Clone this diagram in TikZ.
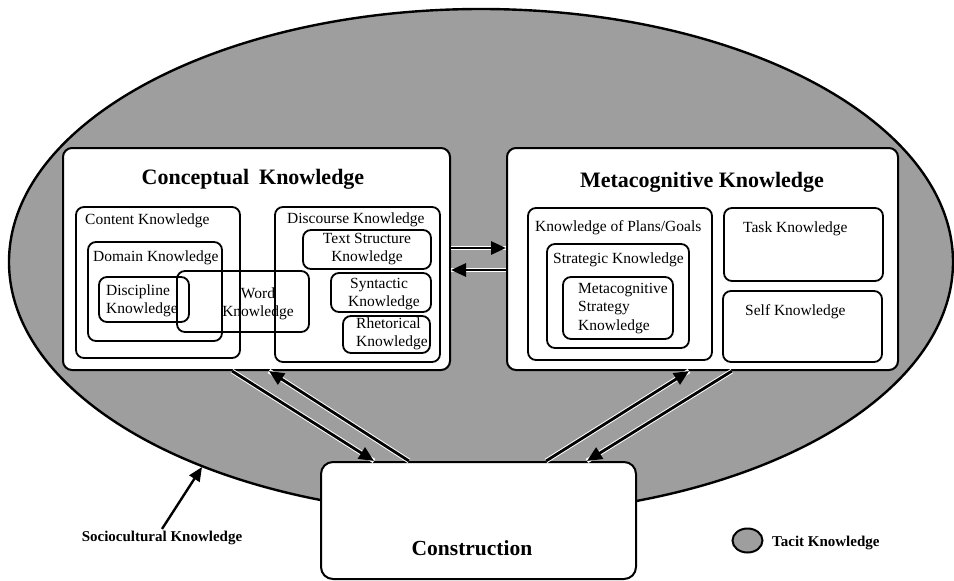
\documentclass[tikz,border=0pt]{standalone}
\usepackage{fontspec}
\setmainfont{Liberation Serif}
\usetikzlibrary{arrows.meta}

\begin{document}
\begin{tikzpicture}[x=1pt,y=-1pt,
  outerbox/.style={draw, line width=2pt, fill=white, rounded corners=9pt, inner sep=0pt},
  innerbox/.style={draw, line width=1.8pt, rounded corners=8pt, inner sep=0pt},
  lbl/.style={inner sep=0pt, font=\fontsize{15.5}{18.5}\selectfont},
  ttl/.style={inner sep=0pt, font=\fontsize{22}{26}\selectfont\bfseries},
  legendtext/.style={inner sep=0pt, font=\fontsize{15}{18}\selectfont\bfseries},
  link/.style={line width=2.8pt, -{Triangle[length=15pt,width=13pt]},
    preaction={draw=white, line width=4.8pt, -}},
  tacitfill/.style={fill=black!38}
]
\useasboundingbox (0,0) rectangle (954,581);

% tacit knowledge surrounding everything
\filldraw[tacitfill, draw=black, line width=2.4pt]
  (481,262) ellipse [x radius=472pt, y radius=253pt];

% the two main knowledge areas
\node[outerbox, minimum width=387pt, minimum height=222pt] (concept) at (256.5,259) {};
\node[outerbox, minimum width=391pt, minimum height=222pt] (meta) at (702.5,259) {};

\node[ttl] (concepttitle) at (253,179) {Conceptual\hspace{0.45em}Knowledge};
\node[ttl] (metatitle) at (702,182) {Metacognitive Knowledge};

% conceptual knowledge parts
\node[innerbox, minimum width=164pt, minimum height=151pt] (content) at (158,282.5) {};
\node[innerbox, minimum width=134pt, minimum height=99pt] (domain) at (155,291.5) {};
\node[innerbox, minimum width=90pt, minimum height=45pt] (discipline) at (144,299.5) {};
\node[innerbox, minimum width=165pt, minimum height=155pt] (discourse) at (357.5,284.5) {};
\node[innerbox, minimum width=128pt, minimum height=39pt] (textstruct) at (367,249.5) {};
\node[innerbox, minimum width=100pt, minimum height=39pt] (syntactic) at (381,292.5) {};
\node[innerbox, minimum width=87pt, minimum height=37pt] (rhetorical) at (386.5,334.5) {};
\node[innerbox, minimum width=132pt, minimum height=61pt] (word) at (243,301.5) {};

\node[lbl, anchor=west] (contentlbl) at (85,221) {Content Knowledge};
\node[lbl, anchor=west] (domainlbl) at (93,258) {Domain Knowledge};
\node[lbl, anchor=west, align=left] (disciplinelbl) at (106,301) {Discipline\\Knowledge};
\node[lbl, align=center] (wordlbl) at (258,304) {Word\\Knowledge};
\node[lbl, anchor=west] (discourselbl) at (287,220) {Discourse Knowledge};
\node[lbl, align=center] (textstructlbl) at (367,249) {Text Structure\\Knowledge};
\node[lbl, anchor=west, align=left] (syntacticlbl) at (348,294) {\hspace*{2pt}Syntactic\\Knowledge};
\node[lbl, anchor=west, align=left] (rhetoricallbl) at (356,334) {Rhetorical\\Knowledge};

% metacognitive knowledge parts
\node[innerbox, minimum width=184pt, minimum height=152pt] (plans) at (620,284) {};
\node[innerbox, minimum width=142pt, minimum height=104pt] (strategic) at (618,296) {};
\node[innerbox, minimum width=110pt, minimum height=62pt] (metastrat) at (618,308) {};
\node[innerbox, minimum width=159pt, minimum height=73pt] (task) at (803.5,244.5) {};
\node[innerbox, minimum width=159pt, minimum height=71pt] (self) at (802.5,326.5) {};

\node[lbl, anchor=west] (planslbl) at (535,228) {Knowledge of Plans/Goals};
\node[lbl, anchor=west] (strategiclbl) at (553,260) {Strategic Knowledge};
\node[lbl, anchor=west, align=left] (metastratlbl) at (578,308.5) {Metacognitive\\Strategy\\Knowledge};
\node[lbl, anchor=west] (tasklbl) at (743,229) {Task Knowledge};
\node[lbl, anchor=west] (selflbl) at (745,312) {Self Knowledge};

% exchange between the two areas
\draw[link] ([yshift=11pt]concept.east) -- ([yshift=11pt]meta.west);
\draw[link] ([yshift=-11pt]meta.west) -- ([yshift=-11pt]concept.east);

% construction
\node[outerbox, rounded corners=12pt, minimum width=315pt, minimum height=117pt] (construct) at (478.5,520.5) {};
\node[ttl, font=\fontsize{21.5}{26}\selectfont\bfseries] (constructlbl) at (472,548) {Construction};

\draw[link] ([xshift=170pt]concept.south west) -- ([xshift=54pt]construct.north west);
\draw[link] ([xshift=89pt]construct.north west) -- ([xshift=207pt]concept.south west);
\draw[link] ([xshift=226pt]construct.north west) -- ([xshift=183pt]meta.south west);
\draw[link] ([xshift=226pt]meta.south west) -- ([xshift=267pt]construct.north west);

% legend
\node[legendtext] (socio) at (162,538) {Sociocultural Knowledge};
\coordinate (sociotip) at (202,467);
\draw[line width=2.4pt, -{Triangle[length=14pt,width=12pt]}] ([yshift=2pt]socio.north) -- (sociotip);

\filldraw[tacitfill, draw=black, line width=2pt] (747.5,540.5) ellipse [x radius=15pt, y radius=12pt];
\node[legendtext, anchor=west] (tacit) at (772,543) {Tacit Knowledge};
\end{tikzpicture}
\end{document}
